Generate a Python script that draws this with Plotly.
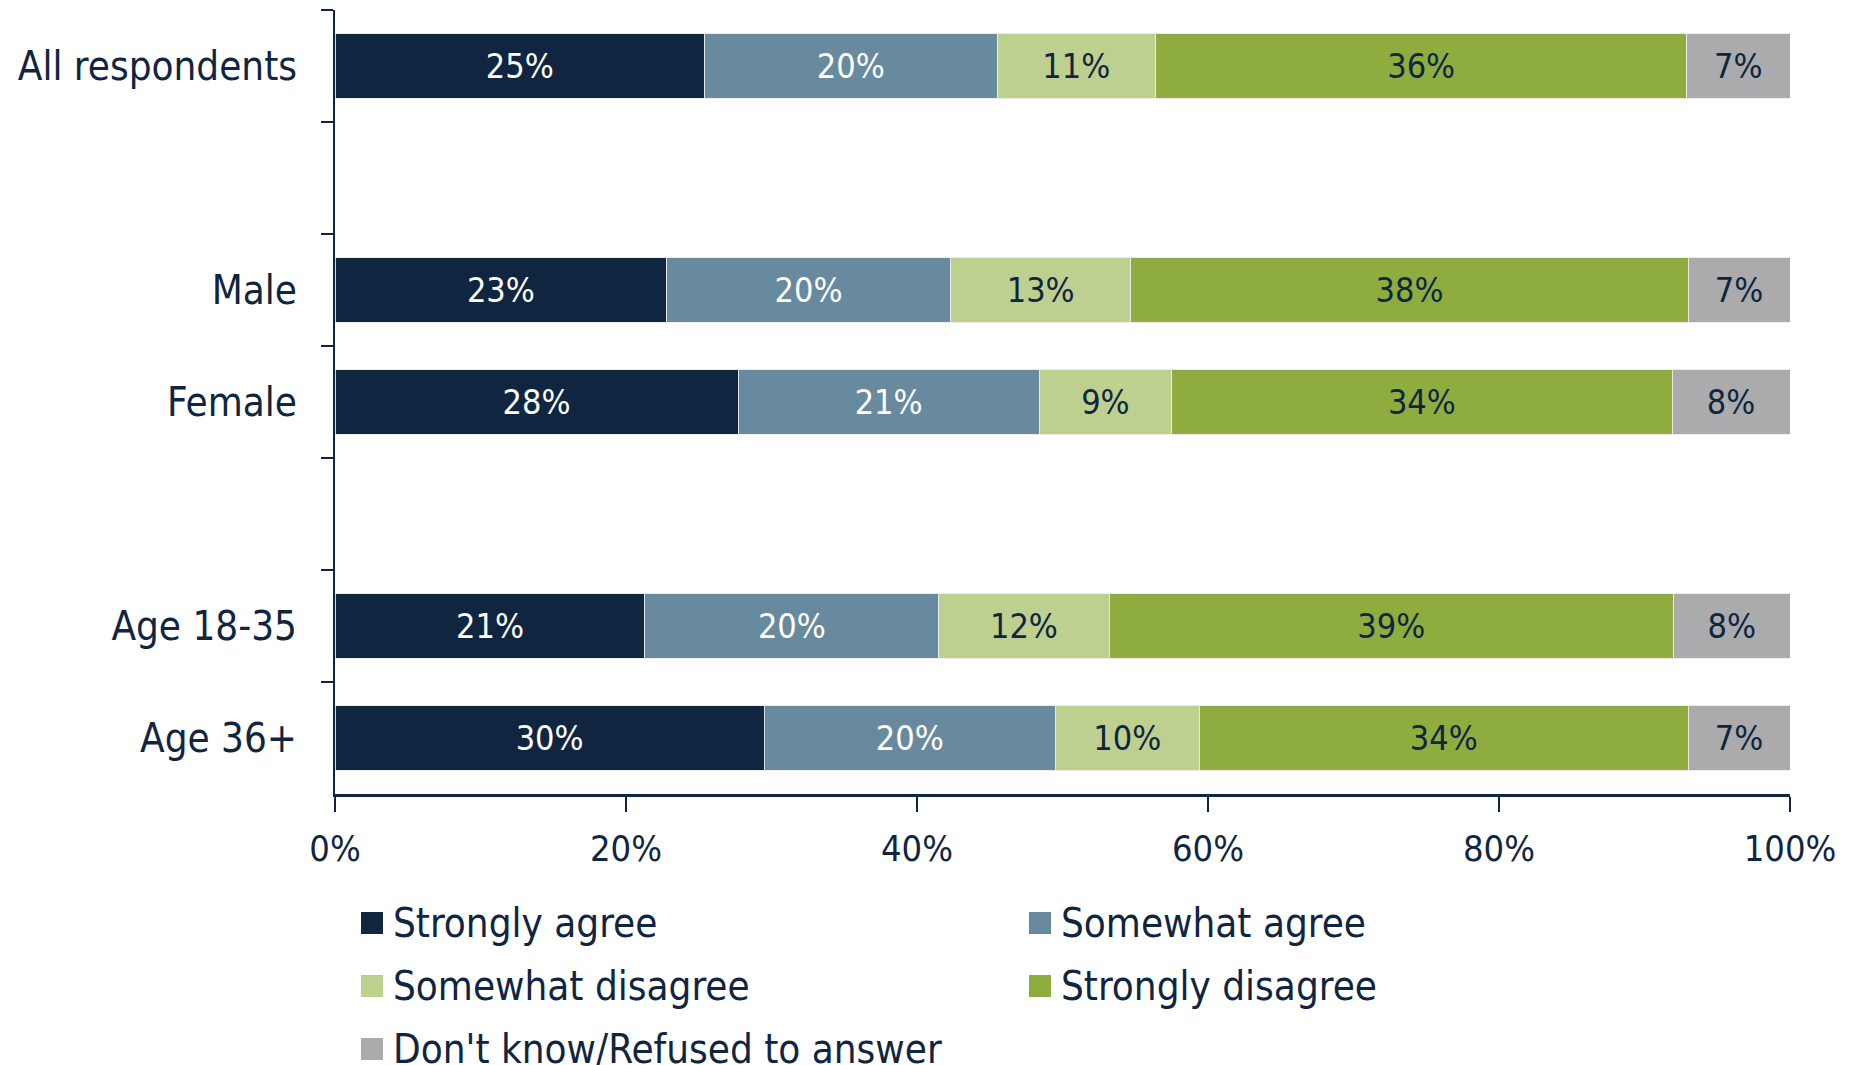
import plotly.graph_objects as go

# rows, top to bottom (blank rows are spacers between groups)
groups = ["All respondents", " ", "Male", "Female", "  ", "Age 18-35", "Age 36+"]

series_names = [
    "Strongly agree",
    "Somewhat agree",
    "Somewhat disagree",
    "Strongly disagree",
    "Don't know/Refused to answer",
]

# bar lengths (%)
strongly_agree = [25.4, None, 22.8, 27.7, None, 21.3, 29.5]
somewhat_agree = [20.1, None, 19.5, 20.7, None, 20.2, 20.0]
somewhat_disagree = [10.9, None, 12.4, 9.1, None, 11.7, 9.9]
strongly_disagree = [36.5, None, 38.3, 34.4, None, 38.8, 33.6]
dont_know = [7.1, None, 7.0, 8.1, None, 8.0, 7.0]

# printed labels
strongly_agree_lbl = ["25%", "", "23%", "28%", "", "21%", "30%"]
somewhat_agree_lbl = ["20%", "", "20%", "21%", "", "20%", "20%"]
somewhat_disagree_lbl = ["11%", "", "13%", "9%", "", "12%", "10%"]
strongly_disagree_lbl = ["36%", "", "38%", "34%", "", "39%", "34%"]
dont_know_lbl = ["7%", "", "7%", "8%", "", "8%", "7%"]

x_ticks = [0, 20, 40, 60, 80, 100]

values = [strongly_agree, somewhat_agree, somewhat_disagree, strongly_disagree, dont_know]
labels = [strongly_agree_lbl, somewhat_agree_lbl, somewhat_disagree_lbl,
          strongly_disagree_lbl, dont_know_lbl]
colors = ["#10253F", "#688A9E", "#BDD08F", "#8FAD3F", "#ABABAD"]
text_colors = ["white", "white", "#10253F", "#10253F", "#10253F"]

NAVY = "#10253F"
FONT = "DejaVu Sans Condensed, Lato, sans-serif"
# page body has an 8px margin, so the figure starts at (8, 8) on screen
W, H = 1848, 1057
L, R, T, B = 327, 66, 2, 271

fig = go.Figure()
for name, vals, lbl, col, tcol in zip(series_names, values, labels, colors, text_colors):
    fig.add_trace(go.Bar(
        y=groups, x=vals, name=name, orientation="h",
        marker=dict(color=col, line=dict(color="rgba(235,235,235,0.9)", width=1)),
        text=lbl, textposition="inside", insidetextanchor="middle",
        textangle=0, textfont=dict(color=tcol, size=34, family=FONT),
        showlegend=False, hoverinfo="skip",
    ))


def px_x(p):
    return (p - L) / (W - L - R)


def px_y(p):
    return (H - B - p) / (H - T - B)


# legend drawn by hand: two columns, square swatches (figure pixels)
leg_cols = [353, 1021]
leg_rows = [915, 978, 1041]
for i, (name, col) in enumerate(zip(series_names, colors)):
    cx = leg_cols[i % 2]
    cy = leg_rows[i // 2]
    fig.add_shape(type="rect", xref="paper", yref="paper",
                  x0=px_x(cx), x1=px_x(cx + 22), y0=px_y(cy - 11), y1=px_y(cy + 11),
                  fillcolor=col, line=dict(width=0))
    fig.add_annotation(xref="paper", yref="paper", x=px_x(cx + 30), y=px_y(cy),
                       text=name, showarrow=False, xanchor="left", yanchor="middle",
                       font=dict(size=40, color=NAVY, family=FONT))

fig.update_layout(
    barmode="stack",
    bargap=0.42,
    width=W, height=H,
    margin=dict(l=L, r=R, t=T, b=B),
    paper_bgcolor="white", plot_bgcolor="white",
    font=dict(family=FONT, color=NAVY, size=40),
    uniformtext=dict(minsize=34, mode="show"),
)
fig.update_xaxes(
    range=[0, 100], tickvals=x_ticks, ticktext=[f"{v}%" for v in x_ticks],
    showgrid=False, zeroline=False,
    showline=True, linecolor=NAVY, linewidth=3,
    ticks="outside", ticklen=15, tickwidth=2, tickcolor=NAVY,
    ticklabelstandoff=6, tickfont=dict(size=36, color=NAVY),
)
fig.update_yaxes(
    type="category", categoryorder="array", categoryarray=groups,
    range=[6.5, -0.5], tickson="boundaries",
    showgrid=False, zeroline=False,
    showline=True, linecolor=NAVY, linewidth=2,
    ticks="outside", ticklen=12, tickwidth=2, tickcolor=NAVY,
    ticklabelstandoff=28, tickfont=dict(size=40, color=NAVY),
)

fig.write_html("out.html")
